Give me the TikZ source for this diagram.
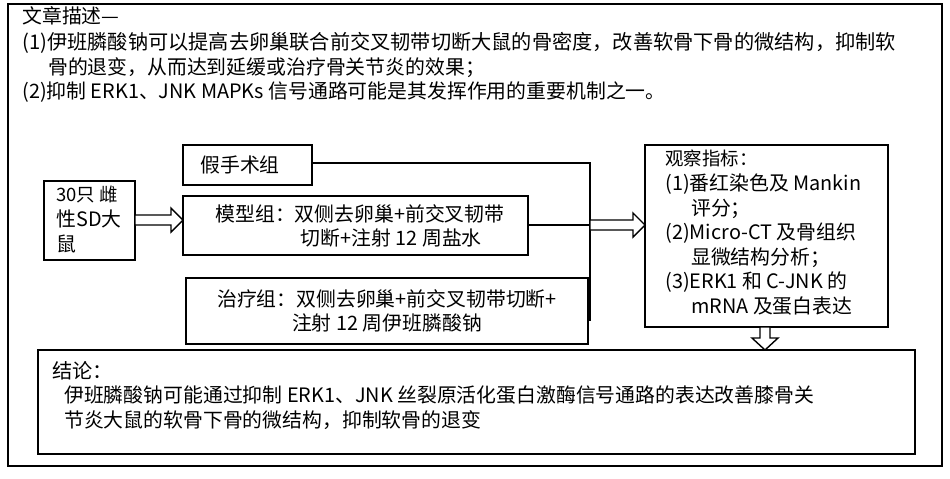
\documentclass[tikz,border=0pt]{standalone}
\usepackage{fontspec}
\setmainfont{Liberation Sans}
\newfontfamily\cjk{Noto Sans CJK SC}

\tikzset{
  box/.style={draw, thick, inner sep=0pt},
  txt/.style={anchor=north west, inner sep=0pt, align=left, font=\cjk\fontsize{11.3}{14}\selectfont},
  hollow/.style={draw, thick, fill=white},
}
% hollow arrow: start x, end x, y (horizontal)
\newcommand\harrow[3]{\draw[hollow] (#1,#3-5) -- (#2-12,#3-5) -- (#2-12,#3-12) -- (#2,#3) -- (#2-12,#3+12) -- (#2-12,#3+5) -- (#1,#3+5) -- cycle;}

\begin{document}
\begin{tikzpicture}[x=0.02cm, y=-0.02cm]
\useasboundingbox (0,0) rectangle (950,478);
\draw[thick] (8,4) rectangle (942,466);

% abstract text
\node[txt] (head) at (22,6) {文章描述—};
\node[txt] (desc) at (22,32) {\fontsize{11.5}{15.2}\selectfont
(1)伊班膦酸钠可以提高去卵巢联合前交叉韧带切断大鼠的骨密度，改善软骨下骨的微结构，抑制软\\
\hspace*{1.3em}骨的退变，从而达到延缓或治疗骨关节炎的效果；\\
(2)抑制 ERK1、JNK MAPKs 信号通路可能是其发挥作用的重要机制之一。};

% boxes
\draw[box] (44,181) rectangle (135,260);
\node[txt] (rats) at (56,186) {\fontsize{10.5}{13.5}\selectfont 30只 雌\\性SD大\\鼠};
\draw[box] (183,145) rectangle (312,185);
\node[txt, anchor=west] (sham) at (200,165) {假手术组};
\draw[box] (183,196) rectangle (528,255);
\node[txt, anchor=center, align=left] (model) at (360,226) {模型组：双侧去卵巢+前交叉韧带\\\hspace*{4.3em}切断+注射 12 周盐水};
\draw[box] (186,278) rectangle (588,344);
\node[txt, anchor=center, align=center] (treat) at (387,311) {治疗组：双侧去卵巢+前交叉韧带切断+\\注射 12 周伊班膦酸钠};
\draw[box] (645,145) rectangle (888,327);
\node[txt] (obs) at (665,150) {\fontsize{10.5}{13.3}\selectfont 观察指标：\\(1)番红染色及 Mankin\\\hspace*{1.3em}评分；\\(2)Micro-CT 及骨组织\\\hspace*{1.3em}显微结构分析；\\(3)ERK1 和 C-JNK 的\\\hspace*{1.3em}mRNA 及蛋白表达};
\draw[box] (38,350) rectangle (915,454);
\node[txt] (concl) at (52,361) {\fontsize{11.5}{13.5}\selectfont 结论：\\\hspace*{0.6em}伊班膦酸钠可能通过抑制 ERK1、JNK 丝裂原活化蛋白激酶信号通路的表达改善膝骨关\\\hspace*{0.6em}节炎大鼠的软骨下骨的微结构，抑制软骨的退变};

% connectors
\coordinate (join) at (590,225);
\draw[thick] (312,163) -- (590,163) -- (590,320) -- (588,320);
\draw[thick] (528,225) -- (join);
\harrow{590}{645}{225}
\harrow{135}{183}{220}
\draw[hollow] (760,327) -- (770,327) -- (770,338) -- (778,338) -- (765,350) -- (752,338) -- (760,338) -- cycle;
\end{tikzpicture}
\end{document}
